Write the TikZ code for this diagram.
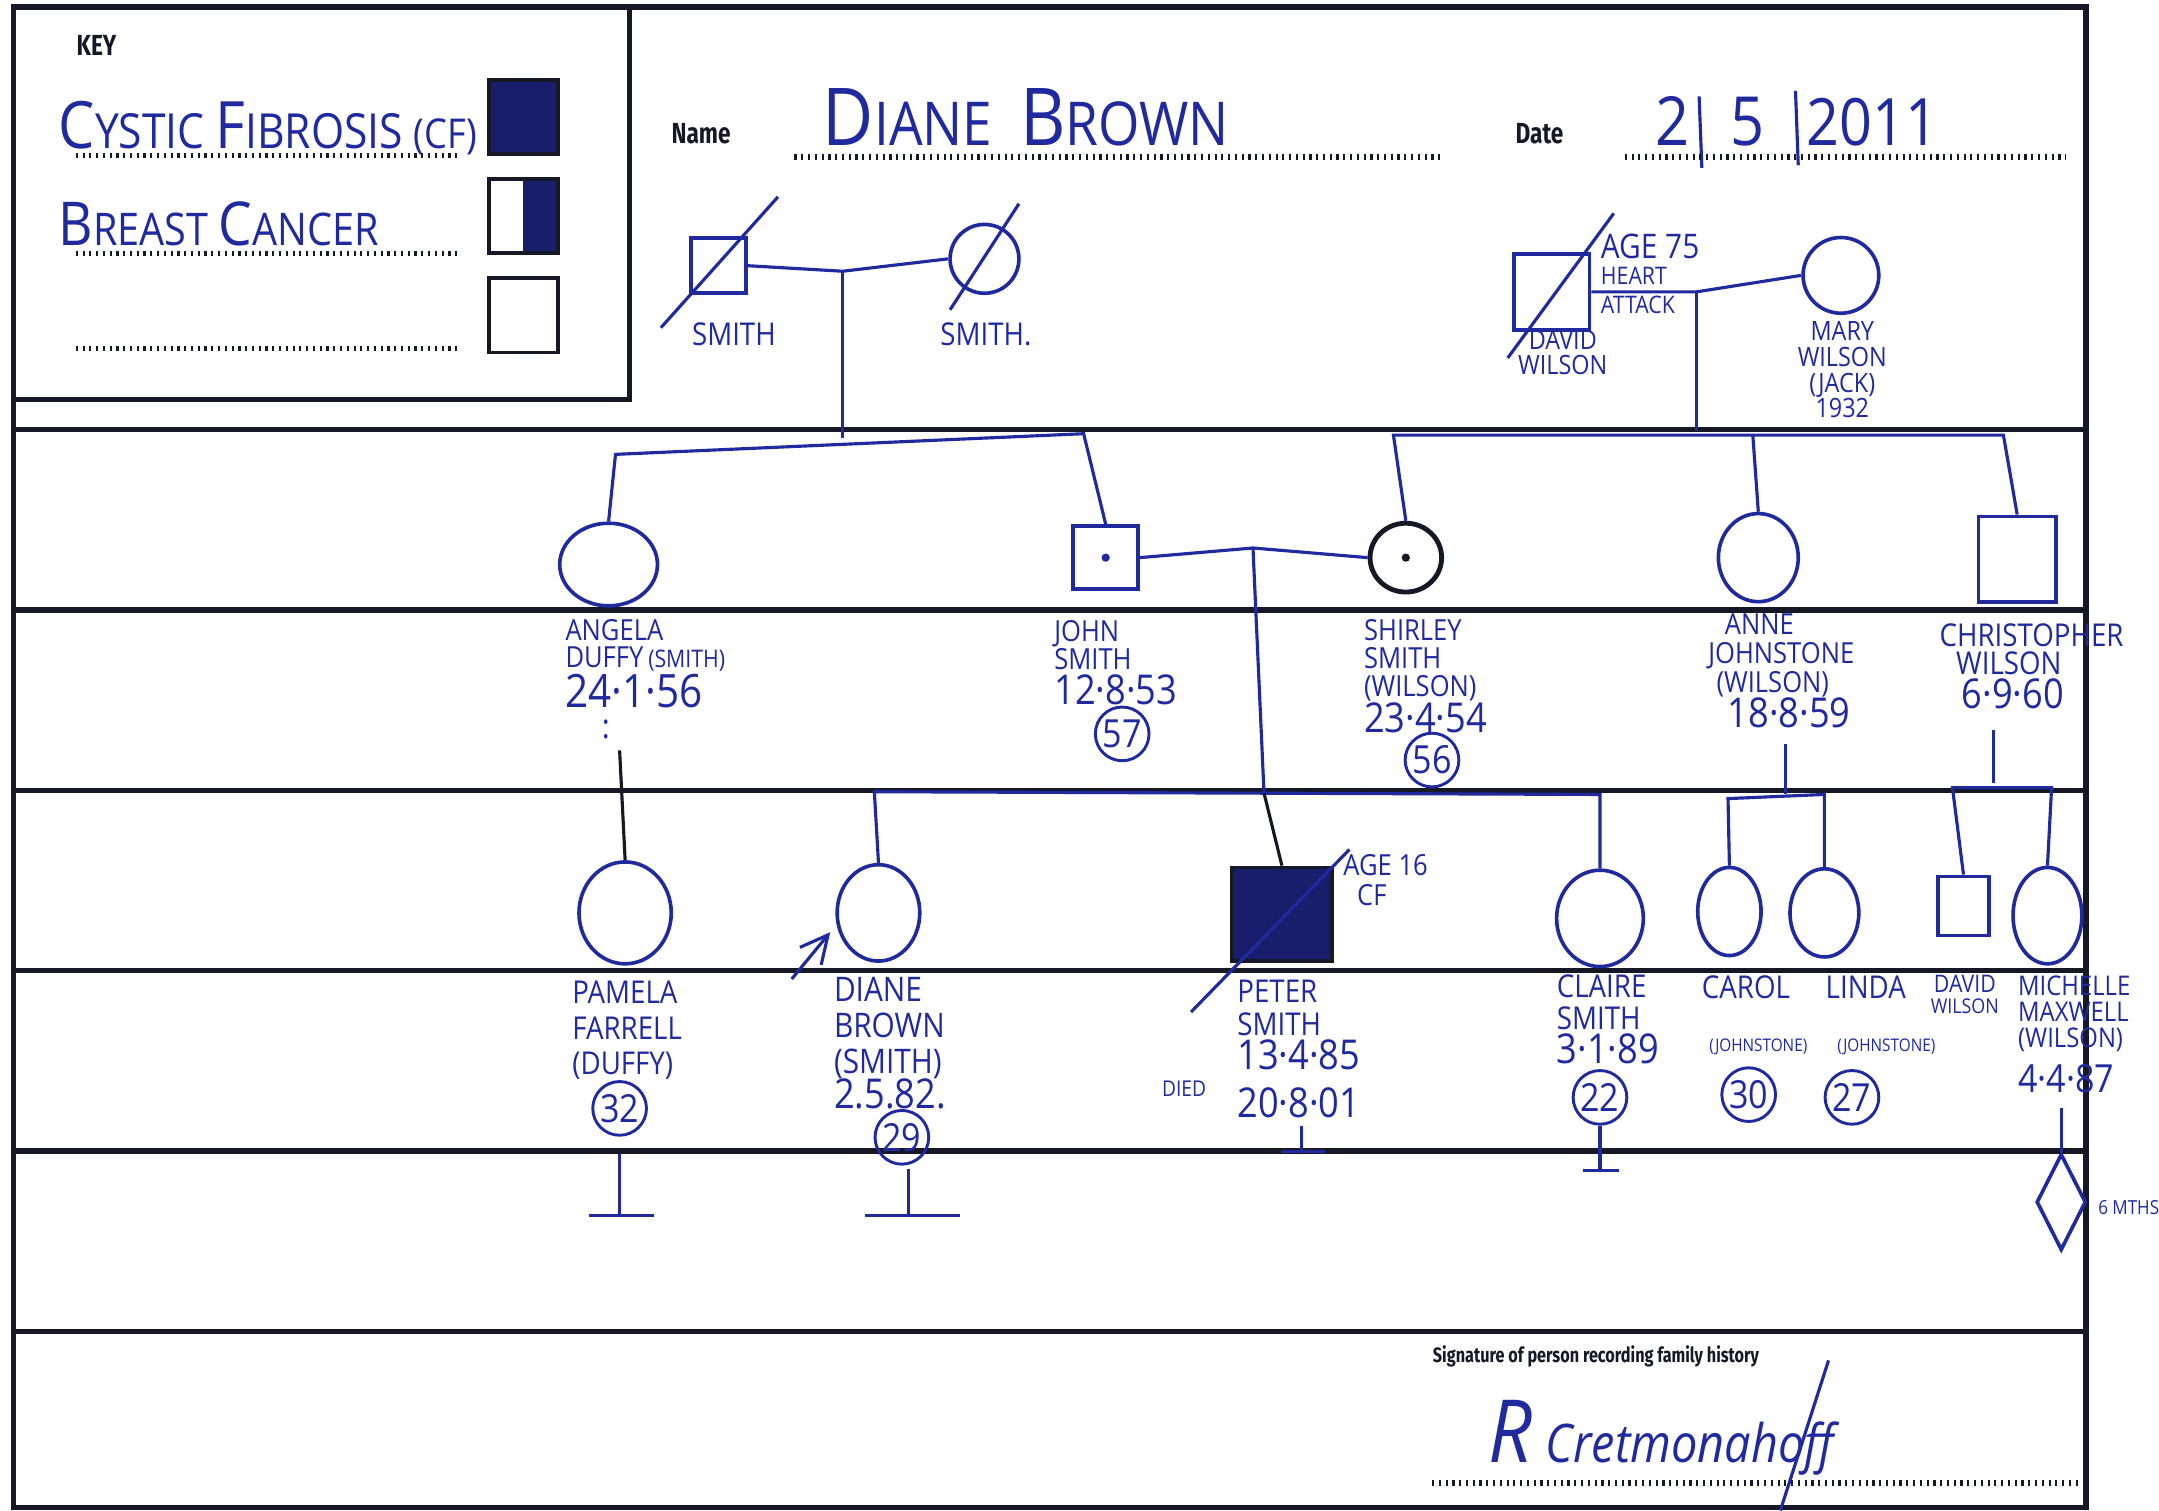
\documentclass[tikz,border=0pt]{standalone}
\usepackage{fontspec}
\newfontfamily\hand[FakeStretch=0.88]{Open Sans}
\newfontfamily\printed[FakeStretch=0.78]{Fira Sans}
\usepackage{xcolor}
\usetikzlibrary{arrows.meta, shapes.geometric}

\definecolor{ink}{RGB}{32,42,158}
\definecolor{frameclr}{RGB}{22,24,38}
\definecolor{cfill}{RGB}{24,30,108}
\newcommand{\hw}[2]{\hand\fontsize{#1}{#2}\selectfont\lineskiplimit=-20pt\lineskip=0pt}

\begin{document}
\begin{tikzpicture}[
  x=0.1mm, y=-0.1mm,
  female/.style 2 args = {
    ellipse, draw=ink, line width=0.75pt,
    inner sep=0pt, minimum width=#1mm, minimum height=#2mm
  },
  male/.style 2 args = {
    rectangle, draw=ink, line width=0.75pt,
    inner sep=0pt, minimum width=#1mm, minimum height=#2mm
  },
  keybox/.style = {
    rectangle, draw=frameclr, line width=0.8pt,
    inner sep=0pt, minimum width=5mm, minimum height=5.4mm
  },
  age/.style = {
    circle, draw=ink, line width=0.6pt, inner sep=0pt,
    minimum size=3.9mm, text=ink, font=\hw{8}{8}
  },
  lbl/.style = {text=ink, inner sep=0pt, align=left},
  printlbl/.style = {text=frameclr, inner sep=0pt, font=\printed\bfseries\fontsize{6}{6}\selectfont},
  rulebar/.style = {draw=frameclr, line width=1.1pt},
  dotline/.style = {draw=frameclr, line width=1.1pt, dash pattern=on 0.45pt off 0.95pt},
  pen/.style = {draw=ink, line width=0.65pt}
]

\fill[white] (0,0) rectangle (1568,1097);
\useasboundingbox (0,0) rectangle (1568,1097);

% Form: frame, key box and ruled lines
\draw[rulebar] (10,5) rectangle (1515,1095);
\draw[rulebar] (457,5) -- (457,290) -- (10,290);
\foreach \y in {312,443,574,705,836,967}
  \draw[rulebar] (10,\y) -- (1515,\y);

% Key
\node[printlbl, anchor=west] (keyttl) at (55,33) {KEY};
\node[lbl, anchor=base west] (kcf) at (42,108)
  {\hw{10}{10}{\fontsize{13.5}{13.5}\selectfont C}YSTIC {\fontsize{13.5}{13.5}\selectfont F}IBROSIS {\fontsize{8.5}{8.5}\selectfont(CF)}};
\node[lbl, anchor=base west] (kbc) at (42,178)
  {\hw{9.3}{9.3}{\fontsize{12.5}{12.5}\selectfont B}REAST {\fontsize{12.5}{12.5}\selectfont C}ANCER};
\draw[dotline] (55,113) -- (335,113);
\draw[dotline] (55,184) -- (335,184);
\draw[dotline] (55,253) -- (335,253);
\node[keybox, fill=cfill] (kcfbox) at (380,85) {};
\node[keybox, path picture={\fill[cfill] (path picture bounding box.north) rectangle (path picture bounding box.south east);}] (kbcbox) at (380,157) {};
\node[keybox] (kblank) at (380,229) {};

% Header: name and date
\node[printlbl, anchor=west] (namettl) at (487,97) {Name};
\node[lbl, anchor=base west] (namev) at (597,106)
  {\hw{12.5}{13}{\fontsize{16.5}{17}\selectfont D}IANE\hspace{2mm}{\fontsize{16.5}{17}\selectfont B}ROWN};
\draw[dotline] (577,114) -- (1048,114);
\node[printlbl, anchor=west] (datettl) at (1100,97) {Date};
\node[lbl, anchor=base] (dday) at (1215,106) {\hw{14}{14}2};
\node[lbl, anchor=base] (dmon) at (1269,106) {\hw{14}{14}5};
\node[lbl, anchor=base] (dyear) at (1360,106) {\hw{13.5}{14}2011};
\draw[pen] (1234,70) -- (1236,122);
\draw[pen] (1304,66) -- (1306,120);
\draw[dotline] (1180,114) -- (1500,114);

% Generation I: Smith grandparents
\node[male={4}{4}] (gfsmith) at (522,193) {};
\node[female={5}{5}] (gmsmith) at (715,188) {};
\draw[pen] ([shift={(-42,45)}]gfsmith.center) -- ([shift={(43,-50)}]gfsmith.center);
\draw[pen] ([shift={(-25,37)}]gmsmith.center) -- ([shift={(25,-40)}]gmsmith.center);
\node[lbl, font=\hw{6.5}{6.5}] (gfsmithl) at (533,243) {SMITH};
\node[lbl, font=\hw{6.5}{6.5}] (gmsmithl) at (716,243) {SMITH.};
\coordinate (smithm) at (612,197);
\coordinate (smithd) at (612,318);
\draw[pen] (gfsmith.east) -- (smithm) -- (gmsmith.west);
\draw[pen] (smithm) -- (smithd);

% Generation I: Wilson grandparents
\node[male={5.5}{5.5}] (gfwilson) at (1127,212) {};
\node[female={5.5}{5.5}] (gmwilson) at (1337,200) {};
\draw[pen] ([shift={(-32,48)}]gfwilson.center) -- ([shift={(45,-57)}]gfwilson.center);
\node[lbl, anchor=north west, font=\hw{5}{5.4}] (gfwage) at (1162,169)
  {{\hw{7}{6}AGE 75}\\HEART\\[0.6pt]ATTACK};
\node[lbl, align=center, font=\hw{5.5}{5.2}] (gfwilsonl) at (1135,256) {DAVID\\WILSON};
\node[lbl, anchor=north, align=center, font=\hw{5.5}{5.3}] (gmwilsonl) at (1338,233) {MARY\\WILSON\\(JACK)\\1932};
\coordinate (wilsonm) at (1232,212);
\coordinate (wilsond) at (1232,313);
\draw[pen] (gfwilson.east) -- (wilsonm) -- (gmwilson.west);
\draw[pen] (wilsonm) -- (wilsond);

% Generation II
\node[female={7.1}{6}] (angela) at (442,410) {};
\node[male={4.7}{4.6}] (john) at (803,405) {};
\node[female={5.2}{5}, draw=frameclr, line width=1pt] (shirley) at (1021,405) {};
\node[female={5.8}{6.4}] (anne) at (1277,405) {};
\node[male={5.6}{6.2}] (chris) at (1465,406) {};
\fill[ink] (john.center) circle (0.3mm);
\fill[frameclr] (shirley.center) circle (0.3mm);

% Smith sibship
\coordinate (smiths1) at (447,330);
\coordinate (smiths2) at (787,315);
\draw[pen] (angela.north) -- (smiths1) -- (smiths2) -- (john.north);

% Wilson sibship
\coordinate (wilsons1) at (1012,316);
\coordinate (wilsons2) at (1273,316);
\coordinate (wilsons3) at (1455,316);
\draw[pen] (shirley.north) -- (wilsons1) -- (wilsons3) -- (chris.north);
\draw[pen] (wilsons2) -- (anne.north);

% John and Shirley
\coordinate (jsm) at (910,398);
\coordinate (jsd) at (918,576);
\draw[pen] (john.east) -- (jsm) -- (shirley.west);
\draw[pen] (jsm) -- (jsd);

% Generation II labels
\node[lbl, anchor=north west, font=\hw{6}{5.7}] (angelal) at (410,449)
  {ANGELA\\DUFFY\,{\hw{5}{5.7}(SMITH)}\\[2.6pt]{\hw{9.5}{9}24·1·56}};
\node[lbl, anchor=center, font=\hw{7}{7}] (angelad) at (440,530) {:};
\node[lbl, anchor=north west, font=\hw{6}{5.8}] (johnl) at (765,450)
  {JOHN\\SMITH\\[1.4pt]{\hw{8.5}{8}12·8·53}};
\node[age] (johnage) at (815,533) {57};
\node[lbl, anchor=north west, font=\hw{6}{5.8}] (shirleyl) at (990,449)
  {SHIRLEY\\SMITH\\(WILSON)\\[1.6pt]{\hw{8.5}{8}23·4·54}};
\node[age] (shirleyage) at (1040,552) {56};
\node[lbl, anchor=north west, font=\hw{6}{6}] (annel) at (1240,445)
  {\hspace{1.2mm}ANNE\\JOHNSTONE\\\hspace{0.6mm}(WILSON)\\[1.2pt]{\hw{8.5}{8}\hspace{1.4mm}18·8·59}};
\node[lbl, anchor=north west, font=\hw{6.5}{5.9}] (chrisl) at (1408,452)
  {CHRISTOPHER\\\hspace{1.2mm}WILSON\\[1.1pt]{\hw{8.5}{8}\hspace{1.6mm}6·9·60}};

% Generation III
\node[female={6.7}{7.4}] (pamela) at (454,663) {};
\node[female={6}{7}] (diane) at (638,663) {};
\node[male={7.3}{6.8}, fill=cfill, draw=frameclr] (peter) at (931,664) {};
\node[female={6.3}{7}] (claire) at (1162,667) {};
\node[female={4.6}{6.4}] (carol) at (1256,662) {};
\node[female={5}{6.4}] (linda) at (1325,663) {};
\node[male={3.7}{4.3}] (davidj) at (1426,658) {};
\node[female={5}{7}] (michelle) at (1487,665) {};
\draw[pen] ([shift={(-66,71)}]peter.center) -- ([shift={(49,-47)}]peter.center);

% Angela down to Pamela
\coordinate (angelad2) at (450,545);
\draw[pen, draw=frameclr] (angelad2) -- (pamela.north);

% John and Shirley's children
\coordinate (g3s1) at (635,575);
\coordinate (g3s2) at (1162,577);
\draw[pen] (diane.north) -- (g3s1) -- (g3s2) -- (claire.north);
\draw[pen, draw=frameclr] (jsd) -- (peter.north);

% Anne's children
\coordinate (anned) at (1297,540);
\coordinate (annej) at (1297,577);
\coordinate (annes1) at (1255,580);
\coordinate (annes2) at (1325,577);
\draw[pen] (anned) -- (annej);
\draw[pen] (carol.north) -- (annes1) -- (annes2) -- (linda.north);

% Christopher's children
\coordinate (chrisd) at (1448,530);
\coordinate (chrisj) at (1448,569);
\coordinate (chriss1) at (1418,572);
\coordinate (chriss2) at (1490,572);
\draw[pen] (chrisd) -- (chrisj);
\draw[pen] (davidj.north) -- (chriss1) -- (chriss2) -- (michelle.north);

% Proband arrow
\coordinate (proband) at (575,711);
\draw[pen, -{Straight Barb[length=2mm, width=2mm]}] (proband) -- ([shift={(-35,14)}]diane.center);

% Generation III labels
\node[lbl, anchor=north west, font=\hw{6.5}{7.3}] (pamelal) at (415,712)
  {PAMELA\\FARRELL\\(DUFFY)};
\node[age] (pamelaage) at (450,805) {32};
\node[lbl, anchor=north west, font=\hw{7}{7.4}] (dianel) at (605,709)
  {DIANE\\BROWN\\(SMITH)\\{\hw{8.5}{8}2.5.82.}};
\node[age] (dianeage) at (655,826) {29};
\node[lbl, anchor=north west, font=\hw{6.5}{6.9}] (peterl) at (898,711)
  {PETER\\SMITH\\{\hw{8.5}{8}13·4·85}\\[3pt]{\hw{8.5}{8}20·8·01}};
\node[lbl, font=\hw{4.5}{4.5}] (peterdied) at (860,791) {DIED};
\node[lbl, anchor=north west, font=\hw{6}{6.2}] (peterage) at (975,620)
  {AGE 16\\\hspace{1mm}CF};
\node[lbl, anchor=north west, font=\hw{6.5}{6.6}] (clairel) at (1130,707)
  {CLAIRE\\SMITH\\[0.6pt]{\hw{8.5}{8}3·1·89}};
\node[age] (claireage) at (1162,797) {22};
\node[lbl, font=\hw{6.5}{6.5}] (caroll) at (1268,717) {CAROL};
\node[lbl, font=\hw{3.6}{3.6}] (carolm) at (1277,760) {(JOHNSTONE)};
\node[age] (carolage) at (1270,795) {30};
\node[lbl, font=\hw{6.5}{6.5}] (lindal) at (1355,717) {LINDA};
\node[lbl, font=\hw{3.6}{3.6}] (lindam) at (1370,760) {(JOHNSTONE)};
\node[age] (lindaage) at (1345,797) {27};
\node[lbl, align=center, font=\hw{4.2}{4.4}] (davidjl) at (1427,722)
  {{\hw{5}{4.4}DAVID}\\WILSON};
\node[lbl, anchor=north west, font=\hw{5.6}{5.4}] (michellel) at (1465,708)
  {MICHELLE\\MAXWELL\\(WILSON)\\[3.8pt]{\hw{8}{8}4·4·87}};

% Generation IV: no children and pregnancy
\coordinate (pamelad) at (450,838);
\coordinate (pamelab) at (450,883);
\draw[pen] (pamelad) -- (pamelab);
\draw[pen] ([shift={(-22,0)}]pamelab) -- ([shift={(25,0)}]pamelab);
\coordinate (dianed) at (660,849);
\coordinate (dianeb) at (660,883);
\draw[pen] (dianed) -- (dianeb);
\draw[pen] ([shift={(-32,0)}]dianeb) -- ([shift={(37,0)}]dianeb);
\coordinate (peterd) at (945,818);
\coordinate (peterb) at (945,836);
\draw[pen] (peterd) -- (peterb);
\draw[pen] ([shift={(-15,0)}]peterb) -- ([shift={(17,0)}]peterb);
\coordinate (claireb) at (1162,850);
\draw[pen] (claireage.south) -- (claireb);
\draw[pen] ([shift={(-12,0)}]claireb) -- ([shift={(14,0)}]claireb);
\node[diamond, draw=ink, line width=0.75pt, inner sep=0pt, minimum width=3.6mm, minimum height=7mm] (preg) at (1497,873) {};
\coordinate (michelled) at (1497,805);
\draw[pen] (michelled) -- (preg.north);
\node[lbl, font=\hw{4}{4}] (pregl) at (1546,877) {6 MTHS};

% Signature
\node[printlbl, anchor=west, font=\printed\bfseries\fontsize{4.3}{4.3}\selectfont] (sigttl) at (1040,985) {Signature of person recording family history};
\node[lbl, anchor=base west] (sig) at (1080,1062)
  {\hand\itshape{\fontsize{18}{18}\selectfont R}\hspace{1mm}{\fontsize{11}{11}\selectfont Cretmonahoff}};
\draw[pen] (1293,1097) -- (1328,988);
\draw[dotline] (1040,1077) -- (1510,1077);
\end{tikzpicture}
\end{document}
